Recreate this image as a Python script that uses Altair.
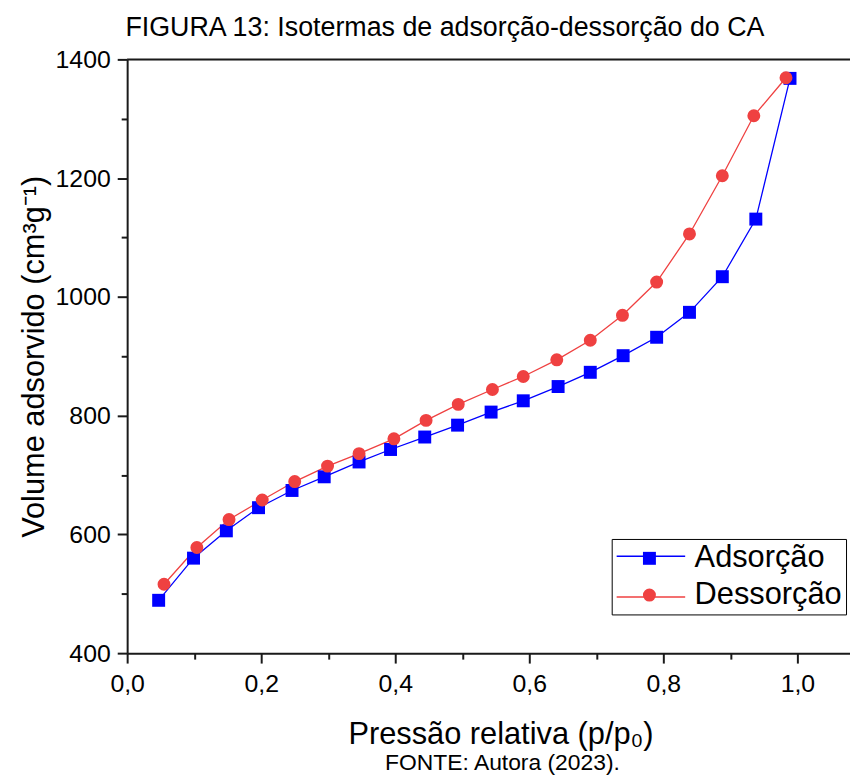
import altair as alt
import pandas as pd

# ---- data ----
ads_p = [0.047, 0.099, 0.148, 0.196, 0.246, 0.294, 0.346, 0.393, 0.444, 0.493,
         0.543, 0.591, 0.643, 0.691, 0.740, 0.790, 0.839, 0.888, 0.938, 0.989]
ads_v = [489, 560, 606, 645, 674, 697, 722, 743, 764, 784,
         806, 825, 849, 873, 901, 932, 974, 1034, 1131, 1368]
des_p = [0.055, 0.104, 0.152, 0.2015, 0.250, 0.299, 0.346, 0.398, 0.446, 0.494,
         0.545, 0.591, 0.641, 0.691, 0.739, 0.790, 0.839, 0.888, 0.935, 0.983]
des_v = [516, 578, 625, 658, 689, 715, 736, 761, 792, 819,
         844, 866, 894, 927, 969, 1025, 1106, 1204, 1305, 1369]
series = ["Adsorção", "Dessorção"]
colors = ["#0000FF", "#EF4141"]
shapes = ["square", "circle"]
x_ticks = [0.0, 0.1, 0.2, 0.3, 0.4, 0.5, 0.6, 0.7, 0.8, 0.9, 1.0]
y_ticks = [400, 500, 600, 700, 800, 900, 1000, 1100, 1200, 1300, 1400]
title_text = "FIGURA 13: Isotermas de adsorção-dessorção do CA"
footer_text = ["FONTE: Autora (2023)."]

ads = pd.DataFrame({"p": ads_p, "v": ads_v, "serie": series[0]})
des = pd.DataFrame({"p": des_p, "v": des_v, "serie": series[1]})
df = pd.concat([ads, des], ignore_index=True)
df["linha"] = df["serie"]  # same series, used for the line part of the legend

FONT = "Liberation Sans"
INK = "#1a1a1a"
W, H = 728, 598

xscale = alt.Scale(domain=[0, 1.0785], nice=False, zero=False)
yscale = alt.Scale(domain=[400, 1400], nice=False, zero=False)

xaxis = alt.Axis(
    values=x_ticks,
    labelExpr="round(datum.value*10) % 2 == 0 ? replace(format(datum.value, '.1f'), '.', ',') : ''",
    tickSize={"condition": {"test": "round(datum.value*10) % 2 != 0", "value": 6}, "value": 10},
    tickWidth=2, tickColor=INK, domainWidth=2, domainColor=INK,
    labelFont=FONT, labelFontSize=25, labelColor="black", labelPadding=9,
    labelFlush=False, labelOverlap=False, labelBound=False,
    titleFont=FONT, titleFontSize=31, titleFontWeight="normal", titleColor="black",
    titlePadding=23, titleX=376, grid=False,
)
yaxis = alt.Axis(
    values=y_ticks,
    labelExpr="datum.value % 200 == 0 ? datum.label : ''",
    format="d",
    tickSize={"condition": {"test": "datum.value % 200 != 0", "value": 6}, "value": 10},
    tickWidth=2, tickColor=INK, domainWidth=2, domainColor=INK,
    labelFont=FONT, labelFontSize=25, labelColor="black", labelPadding=7,
    labelFlush=False, labelOverlap=False, labelBound=False,
    titleFont=FONT, titleFontSize=31, titleFontWeight="normal", titleColor="black",
    titlePadding=5, grid=False,
)

# legend with markers and labels, boxed
legend_marks = alt.Legend(
    title=None, orient="none", legendX=488, legendY=483,
    labelFont=FONT, labelFontSize=31, labelColor="black", labelOffset=30,
    symbolSize=170, symbolOffset=18.5, symbolStrokeWidth=0, rowPadding=5, padding=4,
    strokeColor="black", fillColor="transparent", zindex=2,
)
# legend that only adds the line segment through each marker
legend_lines = alt.Legend(
    title=None, orient="none", legendX=488, legendY=461,
    labelFont=FONT, labelFontSize=4, labelOpacity=0, labelOffset=8, labelLimit=30,
    symbolType="stroke", symbolSize=4761, symbolStrokeWidth=1.5, rowPadding=2, padding=4,
    zindex=1,
)

x = alt.X("p:Q", scale=xscale, axis=xaxis, title="Pressão relativa (p/p₀)")
y = alt.Y("v:Q", scale=yscale, axis=yaxis, title="Volume adsorvido (cm³g⁻¹)")

lines = alt.Chart(df).mark_line(strokeWidth=1.3).encode(
    x=x, y=y, order="p:Q",
    stroke=alt.Stroke("linha:N", scale=alt.Scale(range=colors), legend=legend_lines),
)
points = alt.Chart(df).mark_point(filled=True, size=170, opacity=1).encode(
    x=x, y=y,
    color=alt.Color("serie:N", scale=alt.Scale(domain=series, range=colors), legend=legend_marks),
    shape=alt.Shape("serie:N", scale=alt.Scale(domain=series, range=shapes), legend=legend_marks),
)
top = alt.Chart(pd.DataFrame({"v": [1400]})).mark_rule(color=INK, strokeWidth=2).encode(
    y=alt.Y("v:Q", scale=yscale, axis=yaxis, title="Volume adsorvido (cm³g⁻¹)")
)
footer = alt.Chart(pd.DataFrame({"t": footer_text})).mark_text(
    font=FONT, fontSize=23, color="black", align="center", baseline="alphabetic"
).encode(text="t:N", x=alt.value(378), y=alt.value(716))

chart = alt.layer(lines, points, top, footer).properties(
    width=W, height=H,
    title=alt.TitleParams(title_text, font=FONT, fontSize=27, fontWeight="normal",
                          color="black", anchor="middle", dx=-44, offset=6),
    autosize=alt.AutoSizeParams(type="none"),
    padding={"left": 120, "top": 49, "right": 0, "bottom": 125},
).configure_view(stroke=None).configure(background="white")

chart.save("out.html", embed_options={"renderer": "svg", "actions": False})
